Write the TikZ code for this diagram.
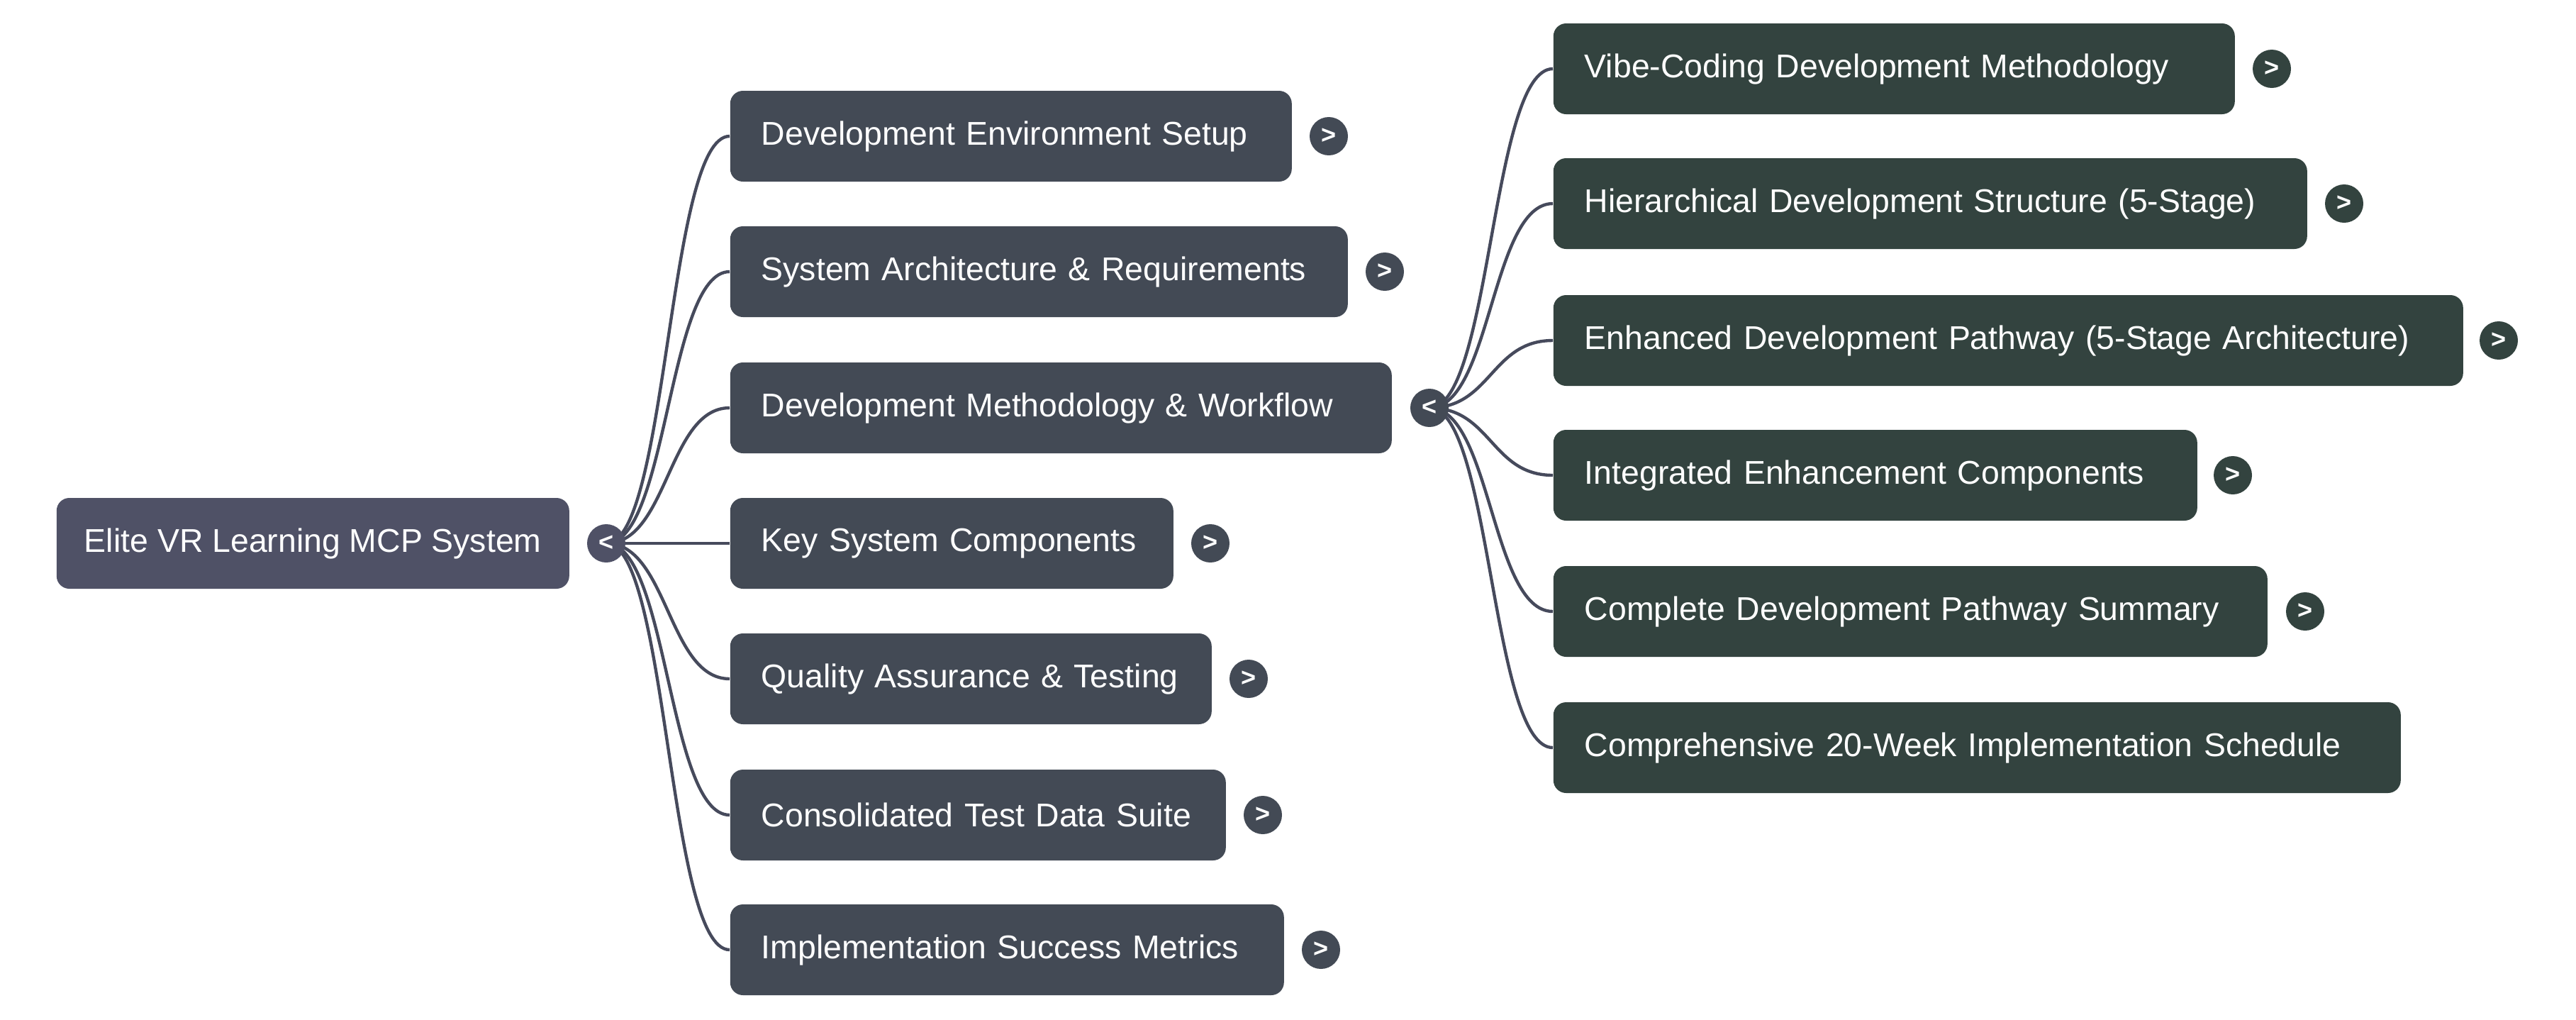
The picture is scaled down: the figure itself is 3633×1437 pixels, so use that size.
\documentclass[tikz,border=0pt]{standalone}
\usepackage{fontspec}
\setmainfont{Liberation Sans}
\usepackage{tikz}
\usetikzlibrary{backgrounds}

\definecolor{rootcol}{HTML}{4F5166}
\definecolor{branchcol}{HTML}{434A55}
\definecolor{leafcol}{HTML}{33433F}
\definecolor{linkcol}{HTML}{464A5C}

\tikzset{
    box/.style={anchor=west, rounded corners=4.5pt, inner xsep=11pt, inner ysep=0pt,
        minimum height=32pt, text=white, align=left, font=\fontsize{11.6}{14}\selectfont},
    rootbox/.style={box, fill=rootcol, inner xsep=9.6pt, minimum width=180.75pt},
    branchbox/.style={box, fill=branchcol},
    leafbox/.style={box, fill=leafcol},
    toggle/.style={circle, inner sep=0pt, minimum size=13.5pt, text=white,
        font=\fontsize{9}{9}\selectfont\bfseries},
    link/.style={draw=linkcol, line width=1.1pt},
}

\begin{document}
\begin{tikzpicture}[x=0.25pt, y=-0.25pt]
    \useasboundingbox (0, 0) rectangle (3633, 1437);

    % root
    \node[rootbox] (root) at (79, 766) {Elite VR Learning MCP System};

    % first level
    \node[branchbox, text width=176pt] (env) at (1029, 192) {Development Environment Setup};
    \node[branchbox, text width=195.75pt] (arch) at (1029, 383) {System Architecture \& Requirements};
    \node[branchbox, text width=211.25pt] (meth) at (1029, 575) {Development Methodology \& Workflow};
    \node[branchbox, text width=134.25pt] (comp) at (1029, 766) {Key System Components};
    \node[branchbox, text width=147.75pt] (qa) at (1029, 957) {Quality Assurance \& Testing};
    \node[branchbox, text width=152.75pt] (data) at (1029, 1149) {Consolidated Test Data Suite};
    \node[branchbox, text width=173.25pt] (metrics) at (1029, 1339) {Implementation Success Metrics};

    % second level
    \node[leafbox, text width=218.25pt] (vibe) at (2190, 97) {Vibe-Coding Development Methodology};
    \node[leafbox, text width=243.75pt] (hier) at (2190, 287) {Hierarchical Development Structure (5-Stage)};
    \node[leafbox, text width=298.75pt] (path) at (2190, 480) {Enhanced Development Pathway (5-Stage Architecture)};
    \node[leafbox, text width=205pt] (enh) at (2190, 670) {Integrated Enhancement Components};
    \node[leafbox, text width=229.75pt] (summ) at (2190, 862) {Complete Development Pathway Summary};
    \node[leafbox, text width=276.75pt] (sched) at (2190, 1054) {Comprehensive 20-Week Implementation Schedule};

    % toggles
    \node[toggle, fill=rootcol] (t-root) at (855, 766) {<};
    \node[toggle, fill=branchcol] (t-env) at (1874, 192) {>};
    \node[toggle, fill=branchcol] (t-arch) at (1953, 383) {>};
    \node[toggle, fill=branchcol] (t-meth) at (2016, 575) {<};
    \node[toggle, fill=branchcol] (t-comp) at (1707, 766) {>};
    \node[toggle, fill=branchcol] (t-qa) at (1761, 957) {>};
    \node[toggle, fill=branchcol] (t-data) at (1781, 1149) {>};
    \node[toggle, fill=branchcol] (t-metrics) at (1863, 1339) {>};
    \node[toggle, fill=leafcol] (t-vibe) at (3204, 97) {>};
    \node[toggle, fill=leafcol] (t-hier) at (3306, 287) {>};
    \node[toggle, fill=leafcol] (t-path) at (3524, 480) {>};
    \node[toggle, fill=leafcol] (t-enh) at (3149, 670) {>};
    \node[toggle, fill=leafcol] (t-summ) at (3251, 862) {>};

    % links
    \begin{scope}[on background layer]
        \foreach \t in {env, arch, meth, comp, qa, data, metrics}
            \draw[link] (t-root.center) .. controls ([xshift=21.75pt]t-root.center) and ([xshift=-21.75pt]\t.west) .. (\t.west);
        \foreach \t in {vibe, hier, path, enh, summ, sched}
            \draw[link] (t-meth.center) .. controls ([xshift=21.75pt]t-meth.center) and ([xshift=-21.75pt]\t.west) .. (\t.west);
    \end{scope}
\end{tikzpicture}
\end{document}
